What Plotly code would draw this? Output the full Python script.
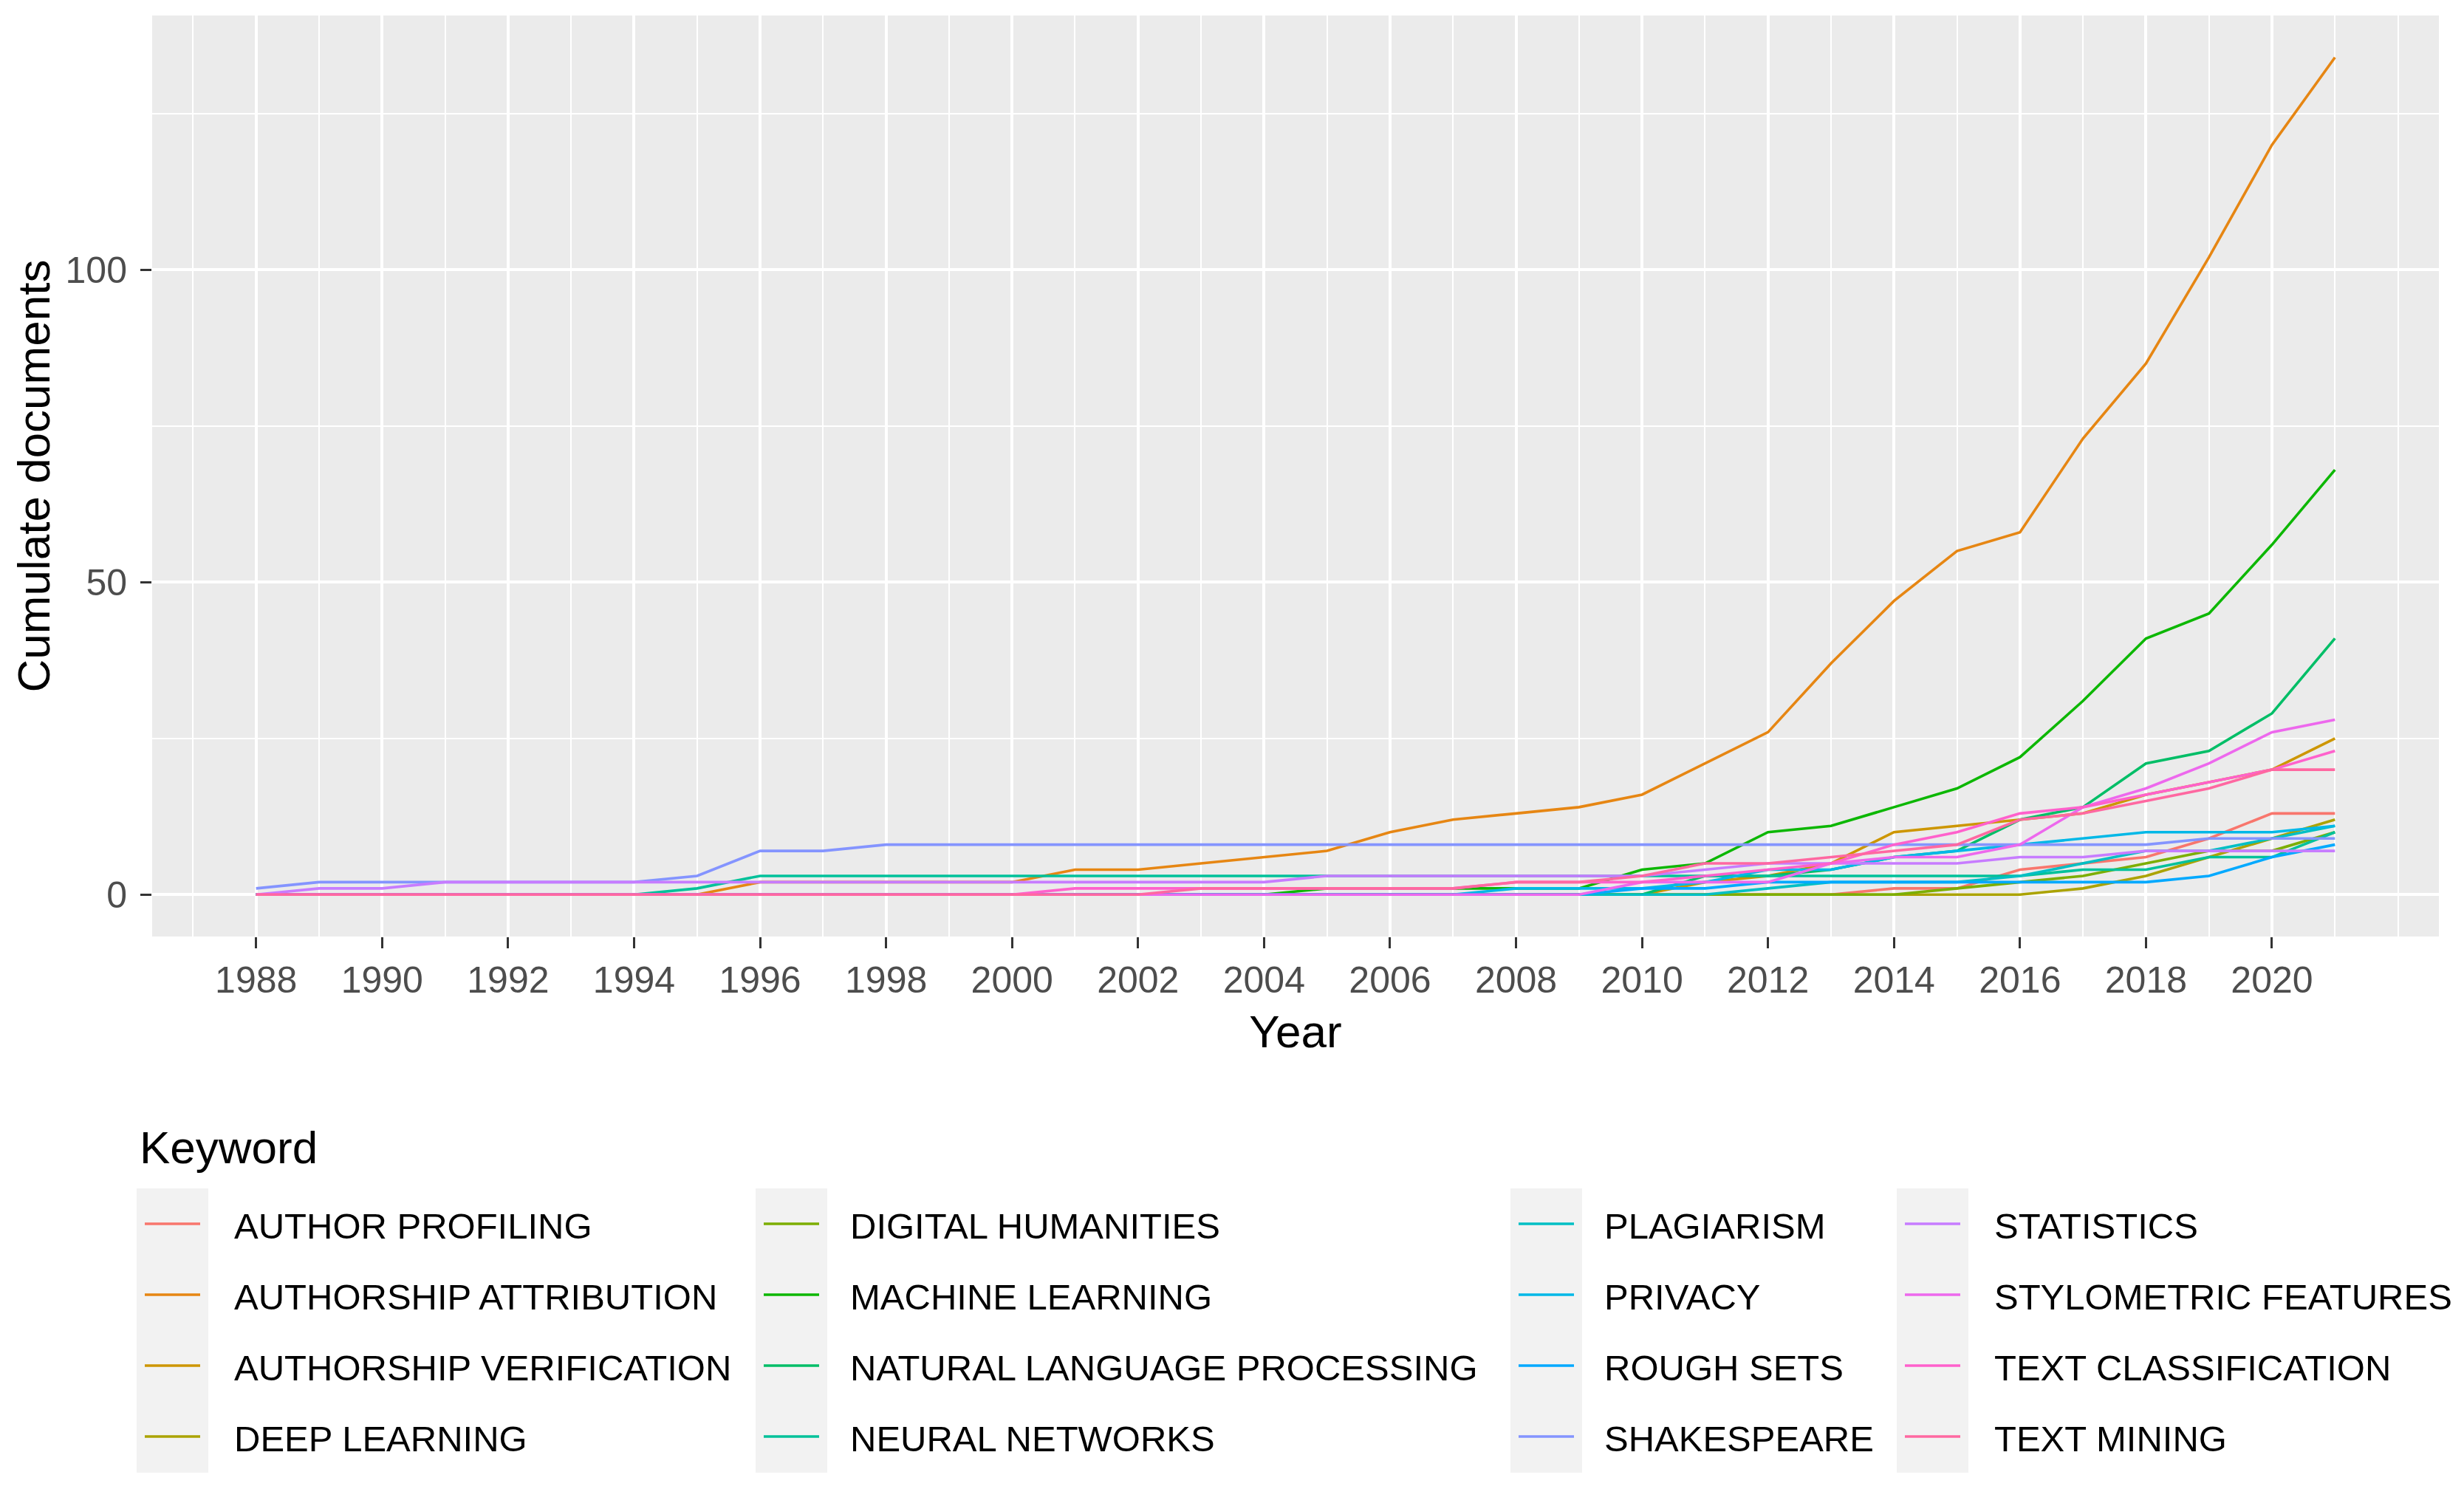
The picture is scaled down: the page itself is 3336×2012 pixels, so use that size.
import plotly.graph_objects as go

# ---------------- data ----------------
years = list(range(1988, 2022))

keywords = [
    "AUTHOR PROFILING", "AUTHORSHIP ATTRIBUTION", "AUTHORSHIP VERIFICATION",
    "DEEP LEARNING", "DIGITAL HUMANITIES", "MACHINE LEARNING",
    "NATURAL LANGUAGE PROCESSING", "NEURAL NETWORKS", "PLAGIARISM", "PRIVACY",
    "ROUGH SETS", "SHAKESPEARE", "STATISTICS", "STYLOMETRIC FEATURES",
    "TEXT CLASSIFICATION", "TEXT MINING",
]

author_profiling = [0]*26 + [1, 1, 4, 5, 6, 9, 13, 13]
authorship_attribution = [0]*8 + [2, 2, 2, 2, 2] + [4, 4, 5, 6, 7, 10, 12, 13, 14, 16, 21, 26, 37, 47, 55, 58, 73, 85, 102, 120, 134]
authorship_verification = [0]*23 + [2, 3, 5, 10, 11, 12, 13, 16, 18, 20, 25]
deep_learning = [0]*29 + [1, 3, 6, 9, 12]
digital_humanities = [0]*27 + [1, 2, 3, 5, 7, 7, 10]
machine_learning = [0]*17 + [1]*5 + [4, 5, 10, 11, 14, 17, 22, 31, 41, 45, 56, 68]
natural_language_processing = [0]*23 + [3, 3, 4, 6, 7, 12, 14, 21, 23, 29, 41]
neural_networks = [0]*7 + [1] + [3]*21 + [4, 4, 6, 6, 10]
plagiarism = [0]*24 + [1, 2, 2, 2, 3, 5, 7, 7, 9, 11]
privacy = [0]*20 + [1, 1, 1, 2, 4, 4, 6, 7, 8, 9, 10, 10, 10, 11]
rough_sets = [0]*22 + [1, 1] + [2]*7 + [3, 6, 8]
shakespeare = [1] + [2]*6 + [3, 7, 7] + [8]*21 + [9, 9, 9]
statistics = [0, 1, 1] + [2]*14 + [3]*6 + [4] + [5]*4 + [6, 6] + [7]*4
stylometric_features = [0]*22 + [2, 2, 2, 5, 6, 6, 8, 14, 17, 21, 26, 28]
text_classification = [0]*13 + [1]*7 + [2, 2, 2, 3, 4, 5, 8, 10, 13, 14, 16, 18, 20, 23]
text_mining = [0]*15 + [1]*5 + [2, 2, 3, 5, 5, 6, 7, 8, 12, 13, 15, 17, 20, 20]

series = [
    author_profiling, authorship_attribution, authorship_verification,
    deep_learning, digital_humanities, machine_learning,
    natural_language_processing, neural_networks, plagiarism, privacy,
    rough_sets, shakespeare, statistics, stylometric_features,
    text_classification, text_mining,
]

colors = [
    "#F8766D", "#E68613", "#CD9600", "#ABA300", "#7CAE00", "#0CB702",
    "#00BE67", "#00C19A", "#00BFC4", "#00B8E7", "#00A9FF", "#8494FF",
    "#C77CFF", "#ED68ED", "#FF61CC", "#FF68A1",
]

x_ticks = list(range(1988, 2021, 2))
x_minor = list(range(1987, 2022, 2)) + [2022]
y_ticks = [0, 50, 100]
y_minor = [25, 75, 125]

# ---------------- figure ----------------
W, H = 3336, 2012
PL, PR, PT, PB = 206, 3302, 21, 1268
FONT = "Liberation Sans, Arial, sans-serif"

fig = go.Figure()
for name, vals, col in zip(keywords, series, colors):
    fig.add_trace(go.Scatter(
        x=years, y=vals, mode="lines", name=name,
        line=dict(color=col, width=3.6), showlegend=False,
    ))

ymax = max(max(s) for s in series)
ymin = min(min(s) for s in series)
yspan = ymax - ymin
xspan = years[-1] - years[0]


def px2paper(px, py):
    return (px - PL) / (PR - PL), (PB - py) / (PB - PT)


shapes = []
annotations = []

# legend title
tx, ty = px2paper(187, 1553)
annotations.append(dict(text="Keyword", x=tx, y=ty, xref="paper", yref="paper",
                        xanchor="left", yanchor="middle", showarrow=False,
                        font=dict(family=FONT, size=62, color="black")))

col_left = [185, 1023, 2045, 2568]
col_text = [315, 1149, 2170, 2698]
key_w = 97
row_y = [1657, 1753, 1849, 1945]
strip_top, strip_bot = 1609, 1994
for c, cl in enumerate(col_left):
    x0, y0 = px2paper(cl, strip_bot)
    x1, y1 = px2paper(cl + key_w, strip_top)
    shapes.append(dict(type="rect", xref="paper", yref="paper", x0=x0, x1=x1,
                       y0=y0, y1=y1, fillcolor="#F2F2F2", line=dict(width=0),
                       layer="below"))
for i, (name, col) in enumerate(zip(keywords, colors)):
    c, r = divmod(i, 4)
    cl = col_left[c]
    lx0, ly = px2paper(cl + 11, row_y[r])
    lx1, _ = px2paper(cl + key_w - 11, row_y[r])
    shapes.append(dict(type="line", xref="paper", yref="paper", x0=lx0, x1=lx1,
                       y0=ly, y1=ly, line=dict(color=col, width=3.6)))
    tx, ty = px2paper(col_text[c], row_y[r] + 3)
    annotations.append(dict(text=name, x=tx, y=ty, xref="paper", yref="paper",
                            xanchor="left", yanchor="middle", showarrow=False,
                            font=dict(family=FONT, size=49, color="black")))

axis_common = dict(
    showgrid=True, gridcolor="white", gridwidth=4.2,
    zeroline=False, showline=False,
    ticks="outside", ticklen=15, tickwidth=2.6, tickcolor="#333333",
    tickfont=dict(family=FONT, size=50, color="#4D4D4D"),
)

fig.update_layout(
    width=W, height=H,
    margin=dict(l=PL, r=W - PR, t=PT, b=H - PB, pad=0),
    paper_bgcolor="white", plot_bgcolor="#EBEBEB",
    showlegend=False,
    xaxis=dict(
        range=[years[0] - 0.05 * xspan, years[-1] + 0.05 * xspan],
        tickmode="array", tickvals=x_ticks, ticktext=[str(v) for v in x_ticks],
        minor=dict(tickmode="array", tickvals=x_minor, showgrid=True,
                   gridcolor="white", gridwidth=2.1, ticks=""),
        title=dict(text="Year", font=dict(family=FONT, size=62, color="black"),
                   standoff=20),
        **axis_common,
    ),
    yaxis=dict(
        range=[ymin - 0.05 * yspan, ymax + 0.05 * yspan],
        tickmode="array", tickvals=y_ticks, ticktext=[str(v) for v in y_ticks],
        ticklabelstandoff=8,
        minor=dict(tickmode="array", tickvals=y_minor, showgrid=True,
                   gridcolor="white", gridwidth=2.1, ticks=""),
        title=dict(text="Cumulate documents",
                   font=dict(family=FONT, size=62, color="black"), standoff=0),
        **axis_common,
    ),
    shapes=shapes,
    annotations=annotations,
)

fig.write_html("out.html", config={"displayModeBar": False},
               post_script="document.body.style.margin='0';")
